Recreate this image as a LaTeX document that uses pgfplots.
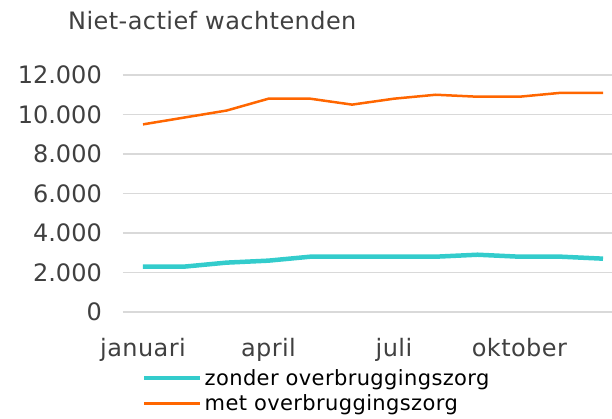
\documentclass[border=0pt]{standalone}
\usepackage{pgfplots}
\pgfplotsset{compat=1.18}
\usepackage{fontspec}
\setmainfont{DejaVu Sans}
\newfontfamily\spacedfont{DejaVu Sans}[LetterSpace=1.8]
\definecolor{tealc}{RGB}{51,204,204}
\definecolor{orangec}{RGB}{255,102,0}
\definecolor{gridc}{RGB}{217,217,217}
\definecolor{txtc}{RGB}{64,64,64}
\begin{document}
\begin{tikzpicture}
\useasboundingbox (-123pt,-107pt) rectangle (489pt,312pt);
\begin{axis}[
  at={(0pt,0pt)}, anchor=south west,
  scale only axis,
  width=489pt, height=237pt,
  xmin=0.522, xmax=12.215,
  ymin=0, ymax=12000,
  scaled y ticks=false,
  axis line style={draw=none},
  major tick length=0pt,
  ytick={0,2000,4000,6000,8000,10000,12000},
  yticklabels={0,2.000,4.000,6.000,8.000,10.000,12.000},
  xtick={1,4,7,10},
  xticklabels={januari,april,juli,oktober},
  ymajorgrids,
  grid style={gridc, line width=1.5pt},
  clip=false,
  tick label style={font=\fontsize{24}{28}\selectfont, text=txtc},
  yticklabel style={anchor=east, inner sep=0pt, xshift=-21pt},
  xticklabel style={anchor=base, inner sep=0pt, yshift=-45pt, font=\fontsize{24}{28}\spacedfont},
  legend style={draw=none, fill=none, at={(rel axis cs:0,0)}, anchor=north west,
    xshift=19pt, yshift=-55pt, inner sep=0pt,
    font=\fontsize{21}{25}\spacedfont, row sep=4pt,
    cells={anchor=west, inner sep=1pt}},
  legend image code/.code={\draw[#1] (0pt,0pt) -- (56pt,0pt);},
  legend cell align=left,
]
\addplot[tealc, line width=4.5pt, line join=round] coordinates {
(1,2300) (2,2300) (3,2500) (4,2600) (5,2800) (6,2800) (7,2800) (8,2800) (9,2900) (10,2800) (11,2800) (12,2700)};
\addlegendentry{zonder overbruggingszorg}
\addplot[orangec, line width=2.5pt, line join=round] coordinates {
(1,9500) (2,9850) (3,10200) (4,10800) (5,10800) (6,10500) (7,10800) (8,11000) (9,10900) (10,10900) (11,11100) (12,11100)};
\addlegendentry{met overbruggingszorg}
\end{axis}
\node[anchor=base west, inner sep=0pt, text=txtc, font=\fontsize{24}{28}\spacedfont] at (-55pt,282pt) {Niet-actief wachtenden};
\end{tikzpicture}
\end{document}
